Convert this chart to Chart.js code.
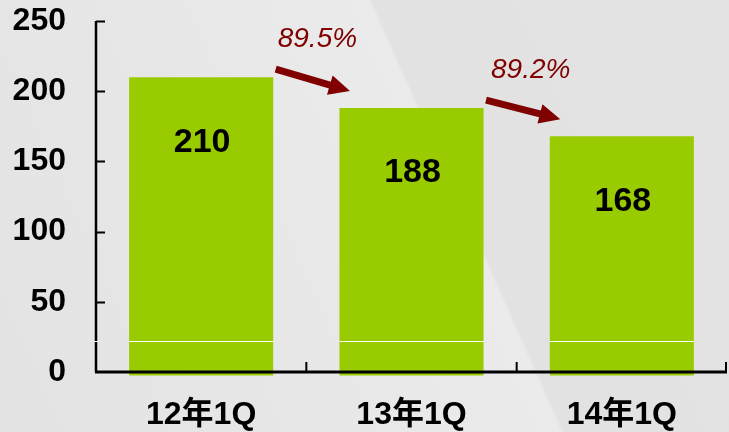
<!DOCTYPE html>
<html>
<head>
<meta charset="utf-8">
<script src="https://cdn.jsdelivr.net/npm/chart.js@4"></script>
<style>
  html, body { margin: 0; padding: 0; }
  body {
    width: 729px; height: 432px; overflow: hidden;
    background: linear-gradient(66deg, #e3e3e3 0%, #e7e7e7 35%, #ebebeb 60.8%, #e2e2e2 61.3%, #e3e3e3 100%);
  }
  canvas { display: block; }
</style>
</head>
<body>
<canvas id="qChart" width="729" height="432"></canvas>
<script>
const categories = ['12年1Q', '13年1Q', '14年1Q'];
const values = [210, 188, 168];
const ratioLabels = ['89.5%', '89.2%'];
const yTicks = [0, 50, 100, 150, 200, 250];

const FONT = '"Liberation Sans", Arial, "Noto Sans CJK SC", sans-serif';
const ARROW_RED = '#800000';

// axes, ticks, value labels and arrows drawn on top of the bars
const overlayPlugin = {
  id: 'overlay',
  afterDatasetsDraw(chart) {
    const ctx = chart.ctx;
    const area = chart.chartArea;
    const y = chart.scales.y;
    const bars = chart.getDatasetMeta(0).data;

    ctx.save();

    // y axis + inward ticks
    ctx.strokeStyle = '#000000';
    ctx.lineWidth = 2.5;
    ctx.beginPath();
    ctx.moveTo(area.left, y.getPixelForValue(yTicks[yTicks.length - 1]));
    ctx.lineTo(area.left, area.bottom);
    ctx.stroke();
    ctx.lineWidth = 2;
    yTicks.forEach(v => {
      if (v === 0) return;
      const py = Math.round(y.getPixelForValue(v)) + 0.5;
      ctx.beginPath();
      ctx.moveTo(area.left, py);
      ctx.lineTo(area.left + 9, py);
      ctx.stroke();
    });

    // thin white streak over the bars and the axis
    ctx.strokeStyle = '#ffffff';
    ctx.lineWidth = 1;
    const wy = Math.round(y.getPixelForValue(22)) + 0.5;
    ctx.beginPath();
    ctx.moveTo(area.left - 2, wy);
    ctx.lineTo(area.left + 3, wy);
    bars.forEach(bar => {
      ctx.moveTo(bar.x - bar.width / 2, wy);
      ctx.lineTo(bar.x + bar.width / 2, wy);
    });
    ctx.stroke();

    // x axis + inward ticks at category boundaries
    ctx.strokeStyle = '#000000';
    ctx.lineWidth = 3;
    ctx.beginPath();
    ctx.moveTo(area.left - 1, area.bottom);
    ctx.lineTo(area.right, area.bottom);
    ctx.stroke();
    ctx.lineWidth = 2;
    const step = (area.right - area.left) / categories.length;
    for (let i = 1; i <= categories.length; i++) {
      const px = Math.min(area.left + step * i, area.right - 1);
      ctx.beginPath();
      ctx.moveTo(px, area.bottom);
      ctx.lineTo(px, area.bottom - 10);
      ctx.stroke();
    }

    // values inside bars
    ctx.fillStyle = '#000000';
    ctx.font = 'bold 34px ' + FONT;
    ctx.textAlign = 'center';
    ctx.textBaseline = 'middle';
    bars.forEach((bar, i) => {
      ctx.fillText(String(values[i]), bar.x + 1, bar.y + 65);
    });

    // arrows between bars with ratio labels
    ctx.fillStyle = ARROW_RED;
    ctx.strokeStyle = ARROW_RED;
    for (let i = 0; i < bars.length - 1; i++) {
      const a = bars[i], b = bars[i + 1];
      const sx = a.x + a.width / 2 + 2.5, sy = a.y - 8;
      const ex = b.x - b.width / 2 + 10.5, ey = b.y - 17;
      const ang = Math.atan2(ey - sy, ex - sx);
      const headLen = 21, headHalf = 10;
      const bx = ex - Math.cos(ang) * headLen, by = ey - Math.sin(ang) * headLen;
      ctx.lineWidth = 7;
      ctx.lineCap = 'butt';
      ctx.beginPath();
      ctx.moveTo(sx, sy);
      ctx.lineTo(bx + Math.cos(ang) * 2, by + Math.sin(ang) * 2);
      ctx.stroke();
      ctx.beginPath();
      ctx.moveTo(ex, ey);
      ctx.lineTo(bx - Math.sin(ang) * headHalf, by + Math.cos(ang) * headHalf);
      ctx.lineTo(bx + Math.sin(ang) * headHalf, by - Math.cos(ang) * headHalf);
      ctx.closePath();
      ctx.fill();

      ctx.font = 'italic 28px ' + FONT;
      ctx.textAlign = 'left';
      ctx.textBaseline = 'middle';
      ctx.fillText(ratioLabels[i], sx + 2 + i * 3, sy - 30);
    }

    ctx.restore();
  }
};

new Chart(document.getElementById('qChart').getContext('2d'), {
  type: 'bar',
  data: {
    labels: categories,
    datasets: [{
      data: values,
      backgroundColor: '#99cc00',
      borderWidth: 0,
      barPercentage: 0.685,
      categoryPercentage: 1,
      base: -2.5,
      clip: 6
    }]
  },
  options: {
    responsive: false,
    animation: false,
    devicePixelRatio: 1,
    layout: { padding: { top: 21, right: 2, left: 0, bottom: 0 } },
    plugins: {
      legend: { display: false },
      tooltip: { enabled: false }
    },
    scales: {
      x: {
        grid: { display: false, drawTicks: false },
        border: { display: false },
        ticks: {
          color: '#000000',
          padding: 24,
          font: { family: FONT, size: 32, weight: 'bold' }
        },
        afterFit(scale) { scale.height = 60; }
      },
      y: {
        min: 0,
        max: 250,
        grid: { display: false, drawTicks: false },
        border: { display: false },
        afterBuildTicks(scale) { scale.ticks = yTicks.map(v => ({ value: v })); },
        ticks: {
          color: '#000000',
          padding: 30,
          font: { family: FONT, size: 32, weight: 'bold' }
        },
        afterFit(scale) {
          scale.width = 96;
          scale.paddingTop = 0;
          scale.paddingBottom = 0;
        }
      }
    }
  },
  plugins: [overlayPlugin]
});
</script>
</body>
</html>
